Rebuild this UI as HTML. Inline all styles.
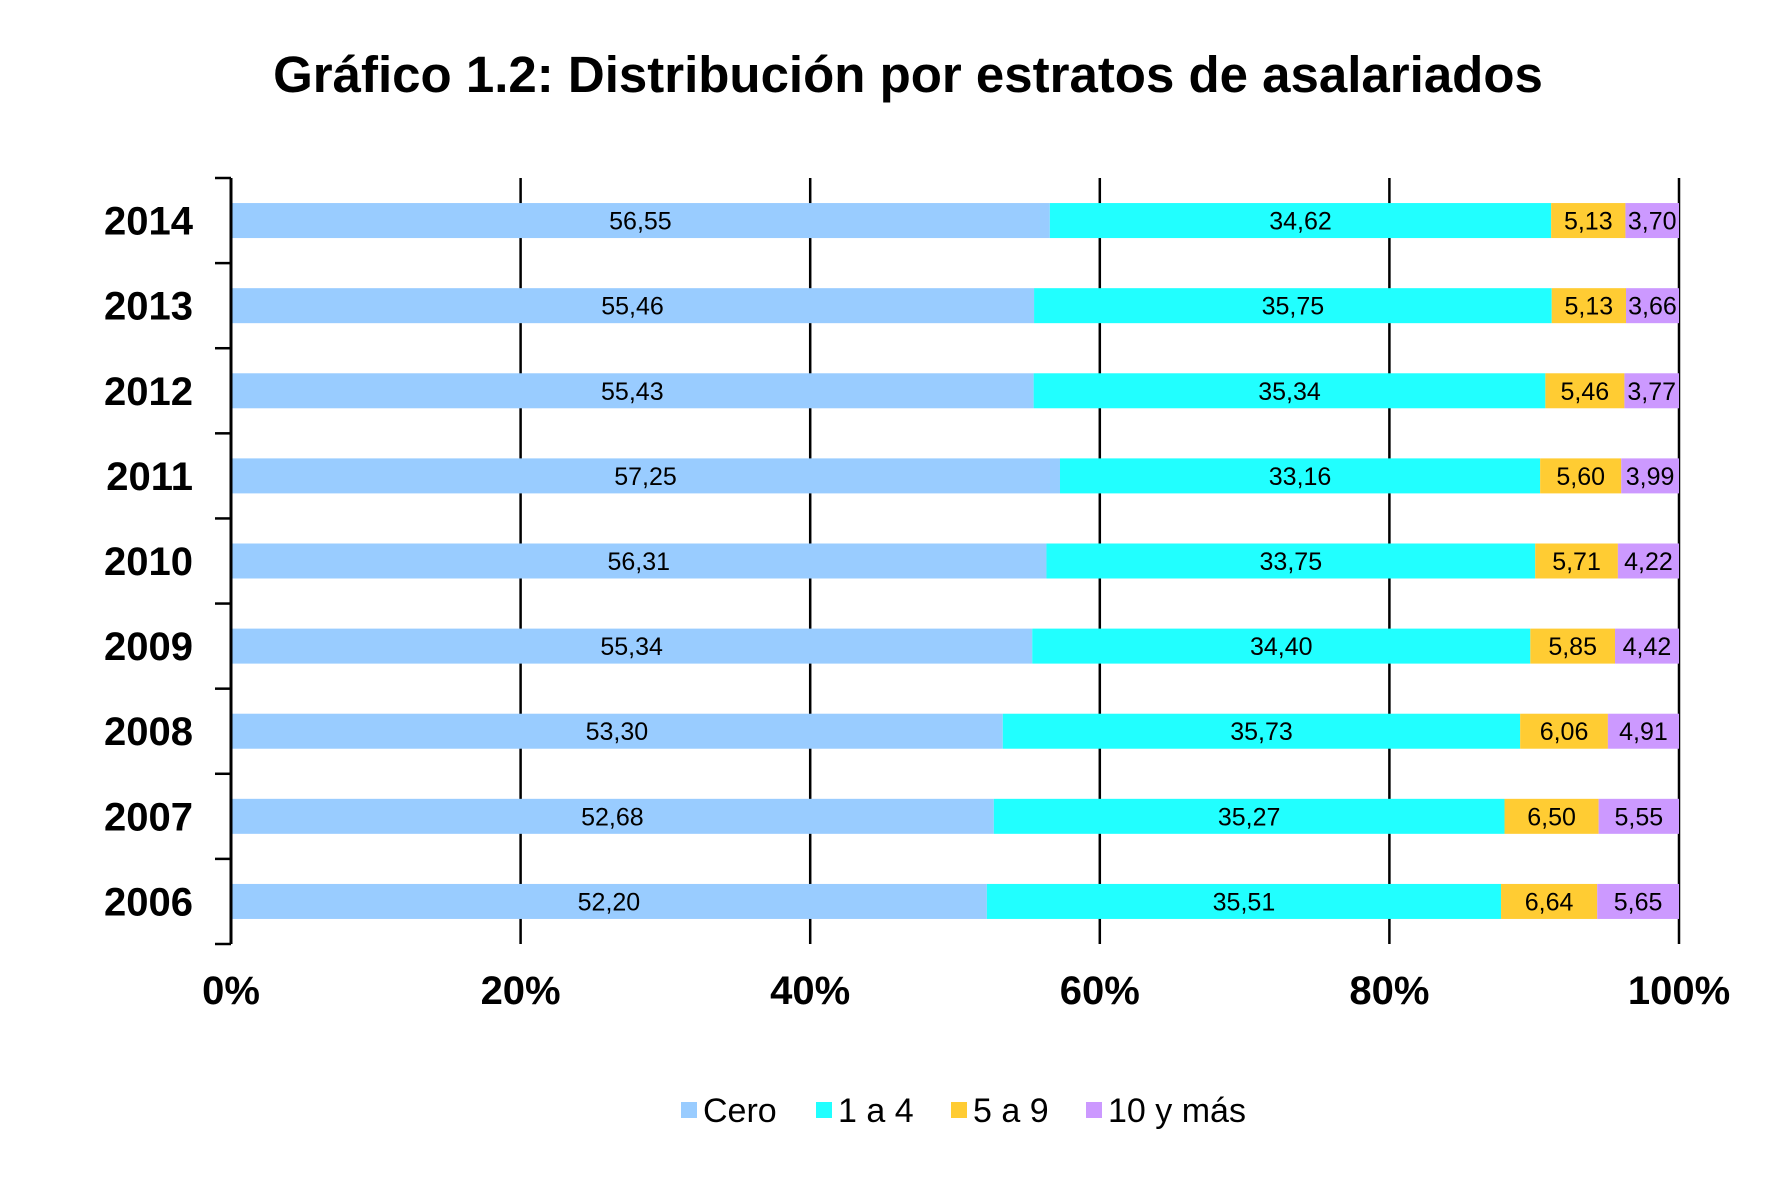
<!DOCTYPE html>
<html><head><meta charset="utf-8">
<style>
html,body{margin:0;padding:0;background:#fff;}
svg{display:block;font-family:"Liberation Sans",Arial,sans-serif;}
</style></head>
<body>
<svg id="chart" width="1776" height="1183" viewBox="0 0 1776 1183">
<text x="908" y="92" text-anchor="middle" font-size="51" font-weight="bold">Gráfico 1.2: Distribución por estratos de asalariados</text>
<g id="grid"></g>
<g id="bars"></g>
<g id="axes"></g>
<g id="legend"></g>
</svg>
<script>
const years = ["2014","2013","2012","2011","2010","2009","2008","2007","2006"];
const cero = [56.55,55.46,55.43,57.25,56.31,55.34,53.30,52.68,52.20];
const uno4 = [34.62,35.75,35.34,33.16,33.75,34.40,35.73,35.27,35.51];
const cinco9 = [5.13,5.13,5.46,5.60,5.71,5.85,6.06,6.50,6.64];
const diezMas = [3.70,3.66,3.77,3.99,4.22,4.42,4.91,5.55,5.65];
const xTicks = [0,20,40,60,80,100];
const seriesNames = ["Cero","1 a 4","5 a 9","10 y más"];

const NS="http://www.w3.org/2000/svg";
const X0=231, X1=1679, Y0=178, Y1=944;
const colors=["#99ccff","#21ffff","#ffcc33","#cc99ff"];
const series=[cero,uno4,cinco9,diezMas];
const band=(Y1-Y0)/years.length, barH=35;
function xs(v){return X0+(X1-X0)*v/100;}
function yc(i){return Y0+band*(i+0.5);}
function mk(tag,attrs,parent){const e=document.createElementNS(NS,tag);for(const k in attrs)e.setAttribute(k,attrs[k]);parent.appendChild(e);return e;}
const grid=document.getElementById('grid'),bars=document.getElementById('bars'),axes=document.getElementById('axes'),legend=document.getElementById('legend');

xTicks.forEach(t=>{
  if(t>0){const l=mk('line',{x1:xs(t),x2:xs(t),y1:Y0,y2:Y1,stroke:'#000','stroke-width':2.5},grid);
  
  }
  const tx=mk('text',{x:xs(t),y:1004,'text-anchor':'middle','font-size':40,'font-weight':'bold'},axes);
  tx.textContent=t+'%';
  
  
});

years.forEach((y,i)=>{
  let acc=0;
  const total=series.reduce((s,a)=>s+a[i],0);
  series.forEach((arr,k)=>{
    const v=arr[i]/total*100;
    const r=mk('rect',{x:xs(acc),y:yc(i)-barH/2,width:xs(acc+v)-xs(acc),height:barH,fill:colors[k]},bars);
    
    
    const t=mk('text',{x:xs(acc+v/2),y:yc(i)+9,'text-anchor':'middle','font-size':25},bars);
    t.textContent=arr[i].toFixed(2).replace('.',',');
    
    
    acc+=v;
  });
  const yl=mk('text',{x:193,y:yc(i)+14,'text-anchor':'end','font-size':40,'font-weight':'bold'},axes);
  yl.textContent=y;
  
  
});

for(let i=0;i<=years.length;i++){
  const yy=Y0+band*i;
  const t=mk('line',{x1:215,x2:X0,y1:yy,y2:yy,stroke:'#000','stroke-width':2.5},axes);
  
  
}
const ax=mk('line',{x1:X0,x2:X0,y1:Y0,y2:Y1,stroke:'#000','stroke-width':3},axes);



const lx=[681,816,951,1086];
seriesNames.forEach((n,k)=>{
  const g=mk('g',{},legend);
  
  
  mk('rect',{x:lx[k],y:1102,width:16,height:16,fill:colors[k]},g);
  const t=mk('text',{x:lx[k]+22,y:1122,'font-size':34},g);
  t.textContent=n;
});
</script>
</body></html>
